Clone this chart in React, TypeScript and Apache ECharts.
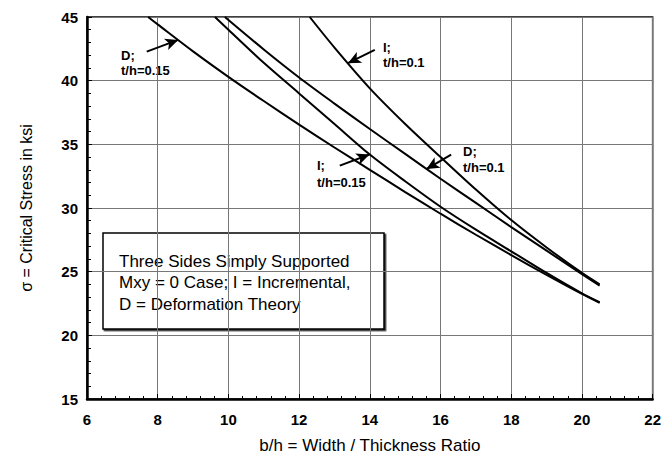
import React, { useEffect, useRef } from "react";
import * as echarts from "echarts";

// b/h values and critical stress (ksi)
const iTh010X = [12.3, 13, 14, 15, 16, 17, 18, 19, 20, 20.5];
const iTh010Y = [45, 42.6, 39.4, 36.6, 34.0, 31.45, 29.05, 26.9, 24.9, 24.0];

const dTh010X = [9.9, 11, 12, 13, 14, 15, 16, 17, 18, 19, 20, 20.5];
const dTh010Y = [45, 42.45, 40.25, 38.2, 36.2, 34.25, 32.3, 30.4, 28.5, 26.65, 24.8, 23.9];

const iTh015X = [9.62, 10, 11, 12, 13, 14, 15, 16, 17, 18, 19, 20, 20.5];
const iTh015Y = [45, 44.0, 41.4, 39.0, 36.6, 34.2, 32.1, 30.1, 28.3, 26.6, 24.9, 23.3, 22.6];

const dTh015X = [7.73, 8, 9, 10, 11, 12, 13, 14, 15, 16, 17, 18, 19, 20, 20.5];
const dTh015Y = [45, 44.42, 42.3, 40.3, 38.4, 36.55, 34.75, 33.0, 31.25, 29.55, 27.9, 26.3, 24.75, 23.25, 22.55];

const xTicks = [6, 8, 10, 12, 14, 16, 18, 20, 22];
const yTicks = [15, 20, 25, 30, 35, 40, 45];

const seriesNames = ["I; t/h=0.1", "D; t/h=0.1", "I; t/h=0.15", "D; t/h=0.15"];
const seriesXs = [iTh010X, dTh010X, iTh015X, dTh015X];
const seriesYs = [iTh010Y, dTh010Y, iTh015Y, dTh015Y];

// arrow annotations: [tailX, tailY, tipX, tipY] in data units
const arrows = [
  [7.69, 42.28, 8.58, 43.2],
  [14.14, 42.42, 13.38, 41.37],
  [16.3, 34.19, 15.6, 33.06],
  [13.15, 33.33, 13.99, 34.2],
];

const annotationLines = [
  { text: "D;", x: 121, y: 55 },
  { text: "t/h=0.15", x: 121, y: 70 },
  { text: "I;", x: 383, y: 47 },
  { text: "t/h=0.1", x: 383, y: 62 },
  { text: "D;", x: 463, y: 151 },
  { text: "t/h=0.1", x: 463, y: 167 },
  { text: "I;", x: 317, y: 165 },
  { text: "t/h=0.15", x: 317, y: 182 },
];

const boxLines = [
  "Three Sides Simply Supported",
  "Mxy = 0 Case; I = Incremental,",
  "D = Deformation Theory",
];

const FONT = "'Liberation Sans', Arial, sans-serif";

export default function App() {
  const ref = useRef<HTMLDivElement>(null);
  useEffect(() => {
    if (!ref.current) return;
    const chart = echarts.init(ref.current, undefined, { renderer: "svg" });
    const series: any[] = seriesNames.map((name, i) => ({
      name,
      type: "line",
      data: seriesXs[i].map((x, j) => [x, seriesYs[i][j]]),
      showSymbol: false,
      smooth: 0.3,
      lineStyle: { color: "#000", width: 2 },
      itemStyle: { color: "#000" },
      silent: true,
    }));
    series.push({
      name: "arrows",
      type: "line",
      data: [],
      silent: true,
      markLine: {
        silent: true,
        symbol: ["none", "arrow"],
        symbolSize: [9, 13],
        label: { show: false },
        lineStyle: { color: "#000", width: 2, type: "solid" },
        data: arrows.map((a) => [
          { coord: [a[0], a[1]] },
          { coord: [a[2], a[3]] },
        ]),
      },
    });

    const graphics: any[] = annotationLines.map((t) => ({
      type: "text",
      x: t.x,
      y: t.y,
      silent: true,
      style: {
        text: t.text,
        fill: "#000",
        font: `bold 13px ${FONT}`,
        textVerticalAlign: "middle",
        textAlign: "left",
      },
    }));
    graphics.push({
      type: "rect",
      shape: { x: 103, y: 233, width: 281, height: 96 },
      style: { fill: "#fff", stroke: "#000", lineWidth: 1.5, shadowColor: "rgba(0,0,0,0.8)", shadowOffsetX: 1.5, shadowOffsetY: 1.5, shadowBlur: 0 },
      silent: true,
    });
    boxLines.forEach((t, i) => {
      graphics.push({
        type: "text",
        x: 119,
        y: 261 + i * 21.5,
        silent: true,
        style: {
          text: t,
          fill: "#000",
          font: `17px ${FONT}`,
          textVerticalAlign: "middle",
          textAlign: "left",
        },
      });
    });

    chart.setOption({
      animation: false,
      backgroundColor: "#fff",
      grid: {
        left: 87,
        top: 17,
        right: 11,
        bottom: 59,
        show: true,
        borderColor: "#000",
        borderWidth: 1.5,
        containLabel: false,
      },
      xAxis: {
        type: "value",
        min: xTicks[0],
        max: xTicks[xTicks.length - 1],
        interval: 2,
        name: "b/h = Width / Thickness Ratio",
        nameLocation: "middle",
        nameGap: 38,
        nameTextStyle: { fontFamily: FONT, fontSize: 17, color: "#000" },
        axisLine: { show: true, lineStyle: { color: "#000", width: 2.5 } },
        axisTick: { show: true, inside: true, length: 5, lineStyle: { color: "#000" } },
        minorTick: { show: true, splitNumber: 5, length: 3, lineStyle: { color: "#000" } },
        axisLabel: {
          fontFamily: FONT,
          fontWeight: "bold",
          fontSize: 15,
          color: "#000",
          margin: 13,
        },
        splitLine: { show: true, lineStyle: { color: "#777", width: 1 } },
      },
      yAxis: {
        type: "value",
        min: yTicks[0],
        max: yTicks[yTicks.length - 1],
        interval: 5,
        name: "σ = Critical Stress in ksi",
        nameLocation: "middle",
        nameGap: 53,
        nameTextStyle: { fontFamily: FONT, fontSize: 16, color: "#000" },
        axisLine: { show: true, lineStyle: { color: "#000", width: 2.5 } },
        axisTick: { show: true, inside: true, length: 5, lineStyle: { color: "#000" } },
        minorTick: { show: true, splitNumber: 5, length: 4, lineStyle: { color: "#000" } },
        axisLabel: {
          fontFamily: FONT,
          fontWeight: "bold",
          fontSize: 15,
          color: "#000",
          margin: 9,
        },
        splitLine: { show: true, lineStyle: { color: "#777", width: 1 } },
      },
      series,
      graphic: graphics,
    });
    return () => chart.dispose();
  }, []);
  return <div ref={ref} style={{ width: 664, height: 459, position: "absolute", left: 0, top: 0 }} />;
}
